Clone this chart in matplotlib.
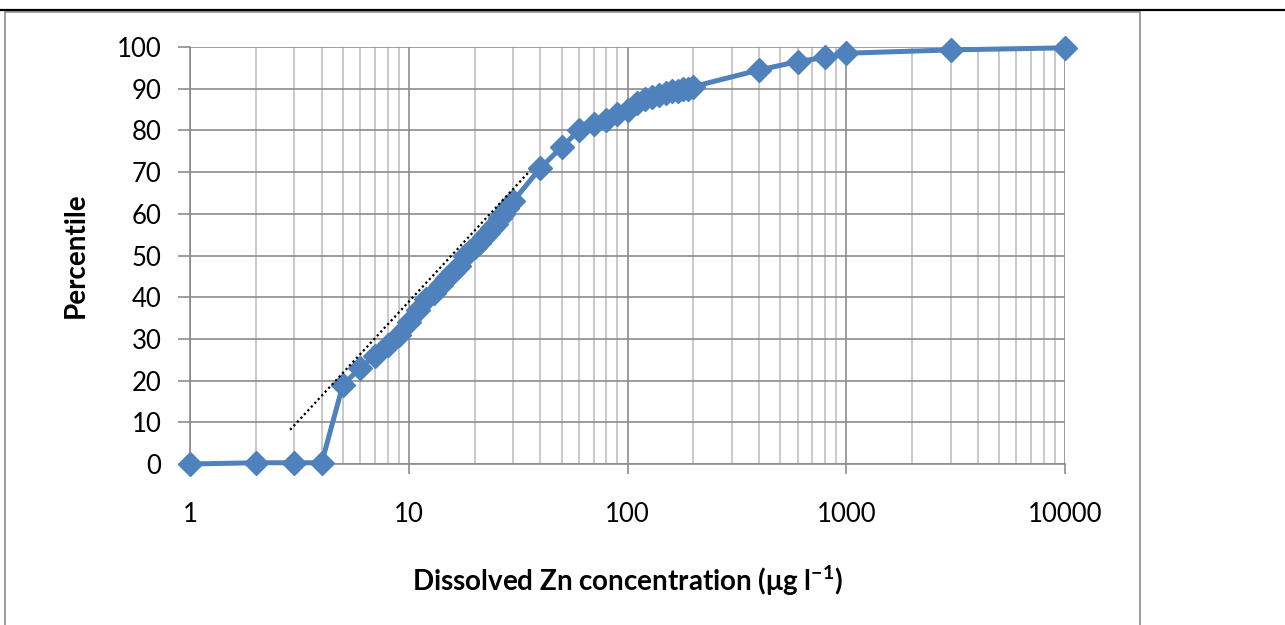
import numpy as np
import matplotlib.pyplot as plt
from matplotlib.ticker import LogLocator, FixedLocator, NullFormatter
from matplotlib.lines import Line2D
from matplotlib.patches import Rectangle

# concentration (ug/l) and percentile
conc = [1, 2, 3, 4, 5, 6, 7, 8, 9, 10, 11, 12, 13, 14, 15, 16, 17, 18, 19, 20,
        21, 22, 23, 24, 25, 26, 27, 28, 30, 40, 50, 60, 70, 80, 90, 100, 110,
        120, 130, 140, 150, 160, 170, 180, 190, 200, 400, 600, 800, 1000, 3000, 10000]
pct = [0, 0.3, 0.3, 0.3, 19, 23, 26, 28.5, 31, 34, 37, 39.5, 41, 43, 44.5, 46, 47.5,
       50, 51, 52, 53, 54.5, 55.5, 56.5, 57.5, 59, 60, 61.5, 63, 71, 76, 80, 81.5,
       82.5, 84, 85, 86.5, 87.5, 88, 88.5, 89, 89.5, 89.5, 90, 90, 90.5, 94.5, 96.5,
       97.5, 98.5, 99.3, 99.8]
# dotted trend line end points
trend_x = [2.87, 35.8]
trend_y = [8.2, 70.3]

xticks = [1, 10, 100, 1000, 10000]
xlabels = ['1', '10', '100', '1000', '10000']
yticks = list(range(0, 101, 10))

plt.rcParams['font.family'] = ['Lato', 'DejaVu Sans']

fig = plt.figure(figsize=(12.85, 6.25), dpi=100)
ax = fig.add_axes([190/1285, (625-464)/625, 875/1285, 417/625])

ax.plot(conc, pct, color='#4F81BD', lw=3.6, marker='D', ms=12.5, mec='#4F81BD',
        zorder=3, clip_on=False)
ax.plot(trend_x, trend_y, color='black', lw=1.6, ls=(0, (1, 1.3)), zorder=4)

ax.set_xscale('log')
ax.set_xlim(1, 10000)
ax.set_ylim(0, 100)
ax.xaxis.set_major_locator(FixedLocator(xticks))
ax.set_xticklabels(xlabels)
ax.xaxis.set_minor_locator(LogLocator(base=10, subs=np.arange(2, 10)))
ax.xaxis.set_minor_formatter(NullFormatter())
ax.set_yticks(yticks)

ax.grid(True, which='major', color='#8c8c8c', lw=1.2)
ax.grid(True, which='minor', axis='x', color='#c0c0c0', lw=1.2)
ax.set_axisbelow(True)
for s in ax.spines.values():
    s.set_color('#8c8c8c')
    s.set_linewidth(1.2)
ax.spines['top'].set_visible(False)
ax.spines['right'].set_visible(False)
ax.tick_params(which='minor', length=0)
ax.tick_params(axis='x', which='major', labelsize=18.5, length=7, width=1.2,
               color='#8c8c8c', pad=20)
ax.tick_params(axis='y', labelsize=18.5, length=8.5, width=1.2,
               color='#8c8c8c', pad=12)

ax.set_xlabel('Dissolved Zn concentration (\u03bcg l$^{\\mathregular{-1}}$)',
              fontsize=20, fontweight='bold', labelpad=26)
ax.set_ylabel('Percentile', fontsize=20, fontweight='bold', labelpad=20)

# outer frame and top rule
fig.add_artist(Rectangle((5/1285, -0.01), 1135/1285, 1 - 12/625 + 0.01,
                         transform=fig.transFigure, fill=False,
                         edgecolor='#8c8c8c', lw=1.2))
fig.add_artist(Line2D([0, 1], [1 - 10/625, 1 - 10/625], transform=fig.transFigure,
                      color='black', lw=1.6))

fig.savefig('out.png', dpi=100)
